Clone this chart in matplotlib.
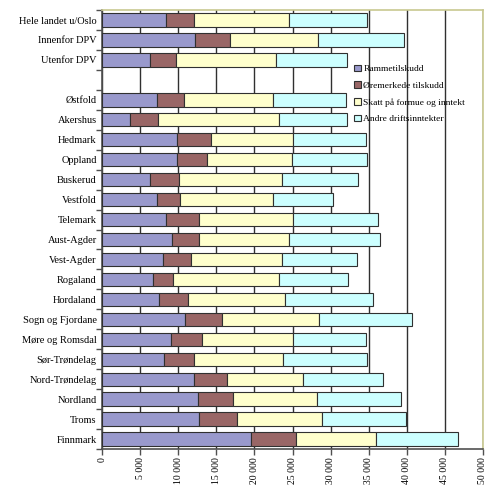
import matplotlib
matplotlib.use("Agg")
import matplotlib.pyplot as plt
import numpy as np
from matplotlib.ticker import FuncFormatter, MultipleLocator

categories = ["Hele landet u/Oslo", "Innenfor DPV", "Utenfor DPV", "",
              "Østfold", "Akershus", "Hedmark", "Oppland", "Buskerud",
              "Vestfold", "Telemark", "Aust-Agder", "Vest-Agder", "Rogaland",
              "Hordaland", "Sogn og Fjordane", "Møre og Romsdal",
              "Sør-Trøndelag", "Nord-Trøndelag", "Nordland", "Troms", "Finnmark"]

rammetilskudd = [8330, 12180, 6270, 0, 7230, 3640, 9860, 9860, 6270, 7230, 8330,
                 9200, 8020, 6620, 7450, 10870, 9030, 8150, 12050, 12540, 12750, 19550]
oremerkede = [3720, 4610, 3370, 0, 3550, 3640, 4390, 3940, 3810, 2980, 4380,
              3510, 3640, 2710, 3770, 4820, 4040, 3900, 4380, 4680, 4990, 5870]
skatt = [12530, 11600, 13190, 0, 11620, 15990, 10850, 11170, 13500, 12190, 12390,
         11870, 11920, 13940, 12790, 12790, 11960, 11660, 9910, 10950, 11180, 10560]
andre = [10250, 11270, 9370, 0, 9590, 8850, 9560, 9860, 10070, 7960, 11180,
         11920, 9940, 9070, 11610, 12190, 9630, 11120, 10600, 11090, 11000, 10730]

series_names = ["Rammetilskudd", "Øremerkede tilskudd",
                "Skatt på formue og inntekt", "Andre driftsinntekter"]
colors = ["#9999CC", "#996666", "#FFFFCC", "#CCFFFF"]

plt.rcParams['font.family'] = ['Liberation Serif', 'DejaVu Serif']

fig = plt.figure(figsize=(5.0, 4.91), dpi=100)
ax = fig.add_axes([0.2046, 0.0855, 0.7608, 0.894])

y = np.arange(len(categories))
left = np.zeros(len(categories))
handles = []
for vals, c, name in zip([rammetilskudd, oremerkede, skatt, andre], colors, series_names):
    v = np.array(vals, dtype=float)
    mask = v > 0
    h = ax.barh(y[mask], v[mask], left=left[mask], height=0.67, color=c,
                edgecolor="#303030", linewidth=0.8, zorder=3, label=name)
    handles.append(h)
    left += v

ax.set_xlim(0, 50000)
ax.set_ylim(len(categories) - 0.5, -0.5)
ax.xaxis.set_major_locator(MultipleLocator(5000))
ax.xaxis.set_major_formatter(FuncFormatter(lambda v, p: f"{int(v):,}".replace(",", " ")))
ax.set_yticks(y)
ax.set_yticklabels(categories, fontsize=7.5)
ax.set_yticks(np.arange(-0.5, len(categories), 1.0), minor=True)
ax.tick_params(axis='y', which='major', length=0, pad=4)
ax.tick_params(axis='y', which='minor', length=4, width=1, color="#505050", direction='out')
ax.tick_params(axis='x', which='major', length=4, width=1, color="#505050",
               labelsize=7, labelrotation=90, pad=2)
for lab in ax.get_xticklabels():
    lab.set_verticalalignment('top')

ax.grid(axis='x', color="#303030", linewidth=1.0, zorder=0)
ax.set_axisbelow(True)

for s in ['left', 'bottom']:
    ax.spines[s].set_color("#505050")
    ax.spines[s].set_linewidth(1.2)
for s in ['top', 'right']:
    ax.spines[s].set_color("#C8C890")
    ax.spines[s].set_linewidth(1.2)

leg = ax.legend(handles=handles, labels=series_names, loc='upper left',
                bbox_to_anchor=(0.708, 0.868), bbox_transform=fig.transFigure,
                frameon=False, fontsize=6.8, handlelength=0.7, handleheight=0.7,
                handletextpad=0.3, labelspacing=0.85, borderaxespad=0, borderpad=0)
for p in leg.get_patches():
    p.set_linewidth(0.8)
    p.set_edgecolor("#303030")

fig.savefig("out.png", dpi=100)
